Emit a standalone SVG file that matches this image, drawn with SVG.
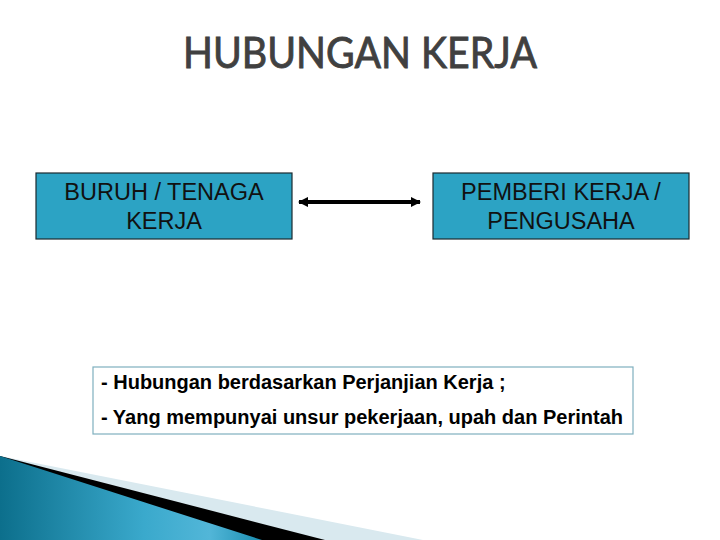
<svg xmlns="http://www.w3.org/2000/svg" width="720" height="540" viewBox="0 0 720 540">
<style>
.box{fill:#2ca3c4;stroke:#1b2a30;stroke-width:1.2}
.lbl{font-family:"Liberation Sans",Arial,sans-serif;font-size:23.5px;fill:#111;text-anchor:middle}
.note{font-family:"Liberation Sans",Arial,sans-serif;font-size:20px;font-weight:bold;fill:#000}
.title{font-family:Lato,"Open Sans",sans-serif;font-size:43px;fill:#404040;stroke:#404040;stroke-width:0.9;text-anchor:middle}
</style>
<defs>
<linearGradient id="blueg" x1="0" y1="0" x2="1" y2="0">
<stop offset="0" stop-color="#0c6f8c"/>
<stop offset="0.55" stop-color="#3aa9cc"/>
<stop offset="0.8" stop-color="#52b6d8"/>
<stop offset="1" stop-color="#1a8db0"/>
</linearGradient>
<marker id="ah" viewBox="0 0 10 10" refX="9" refY="5" markerWidth="2.6" markerHeight="2.6" orient="auto-start-reverse" markerUnits="strokeWidth">
<path d="M0,0 L10,5 L0,10 z" fill="#000"/>
</marker>
</defs>
<rect width="720" height="540" fill="#fff"/>
<g id="decor">
<polygon points="0,456 423,540 0,540" fill="#d9e9ef"/>
<polygon points="0,456 325,540 0,540" fill="#000"/>
<polygon points="0,456 262,540 0,540" fill="url(#blueg)"/>
</g>
<text class="title" x="360" y="68" textLength="354" lengthAdjust="spacingAndGlyphs">HUBUNGAN KERJA</text>
<g id="connectors">
<line x1="299" y1="202" x2="420" y2="202" stroke="#000" stroke-width="4" marker-start="url(#ah)" marker-end="url(#ah)"/>
</g>
<g id="buruh">
<rect class="box" x="36" y="173" width="256" height="66"/>
<text class="lbl" x="164" y="200">BURUH / TENAGA</text>
<text class="lbl" x="164" y="229">KERJA</text>
</g>
<g id="pemberi">
<rect class="box" x="433" y="173" width="256" height="66"/>
<text class="lbl" x="561" y="200">PEMBERI KERJA /</text>
<text class="lbl" x="561" y="229">PENGUSAHA</text>
</g>
<g id="keterangan">
<rect x="93" y="367" width="540" height="67" fill="#fff" stroke="#7fb0be" stroke-width="1.2"/>
<text class="note" x="101" y="389">- Hubungan berdasarkan Perjanjian Kerja ;</text>
<text class="note" x="101" y="424">- Yang mempunyai unsur pekerjaan, upah dan Perintah</text>
</g>
</svg>
